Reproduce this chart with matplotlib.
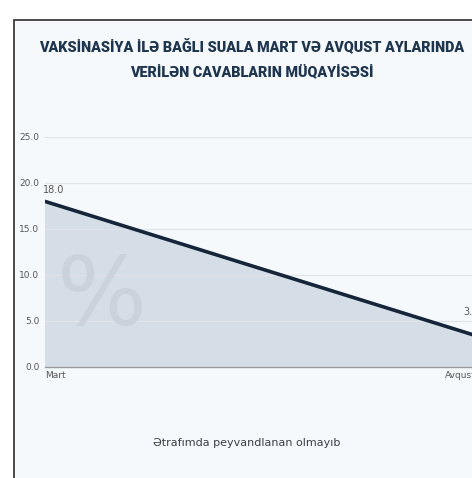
import matplotlib.pyplot as plt
from matplotlib.patches import Rectangle

# --- data ---
months = ['Mart', 'Avqust']
values = [18.0, 3.4]
y_ticks = [0.0, 5.0, 10.0, 15.0, 20.0, 25.0]

title = 'VAKSİNASİYA İLƏ BAĞLI SUALA MART VƏ AVQUST AYLARINDA\nVERİLƏN CAVABLARIN MÜQAYİSƏSİ'
caption = 'Ətrafımda peyvandlanan olmayıb'

W, H = 472, 478
fig = plt.figure(figsize=(W / 100, H / 100), dpi=100, facecolor='white')

# card frame, runs past the right and bottom edges like the crop
fig.patches.append(Rectangle((14 / W, -0.1), 1.2, 1.1 - 20 / H, transform=fig.transFigure,
                             facecolor='#f6f9fb', edgecolor='#3c3c3c', linewidth=1.3, zorder=-5))

# plot area: Mart at x=45px, Avqust just past the right edge
left, right = 45 / W, 476 / W
bottom, top = (H - 367) / H, (H - 137) / H
ax = fig.add_axes([left, bottom, right - left, top - bottom])
ax.set_zorder(1)
ax.set_facecolor('none')

x = list(range(len(months)))
ax.fill_between(x, values, 0, color='#d5dde6', zorder=1)
ax.plot(x, values, color='#16263a', linewidth=2.6, solid_capstyle='round', zorder=4)

ax.set_xlim(0, 1)
ax.set_ylim(0, 25)
ax.set_yticks(y_ticks)
ax.set_yticklabels([f'{t:.1f}' for t in y_ticks])
ax.set_xticks(x)
ax.set_xticklabels(months)
lbls = ax.get_xticklabels()
lbls[0].set_ha('left')
lbls[-1].set_ha('right')

# grid sits over the fill as faint lighter lines
ax.set_axisbelow(False)
ax.grid(axis='y', color='#e0e4e8', linewidth=0.9, zorder=2)
for s in ['top', 'right', 'left']:
    ax.spines[s].set_visible(False)
ax.spines['bottom'].set_color('#9a9a9a')
ax.spines['bottom'].set_linewidth(1.0)
ax.tick_params(axis='y', length=0, pad=4, labelsize=6.5, labelcolor='#555555')
ax.tick_params(axis='x', length=0, pad=3, labelsize=6.5, labelcolor='#555555')

# value labels
ax.annotate(f'{values[0]:.1f}', (x[0], values[0]), xytext=(-1.5, 8), textcoords='offset points',
            ha='left', va='center', fontsize=7, color='#555555')
ax.annotate(f'{values[1]:.1f}', (x[1], values[1]), xytext=(-9, 17), textcoords='offset points',
            ha='left', va='center', fontsize=7, color='#555555')

# big faint percent sign in the filled area
ax.text(102 / W, 1 - 299 / H, '%', transform=fig.transFigure, fontsize=68, color='#cad2db',
        ha='center', va='center', zorder=3)

fig.text(252 / W, 1 - 59 / H, title, ha='center', va='center', fontsize=10.4, fontweight='black',
         family='Roboto', color='#1e3550', linespacing=1.8)
fig.text(247 / W, 1 - 443 / H, caption, ha='center', va='center', fontsize=8, color='#3a3f46')

fig.savefig('out.png', dpi=100, facecolor='white')
